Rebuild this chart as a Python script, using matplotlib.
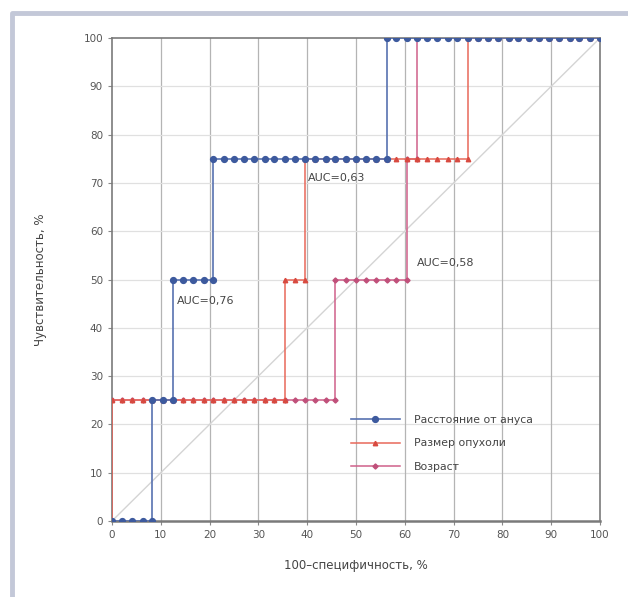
import matplotlib.pyplot as plt
from matplotlib.lines import Line2D

# ROC curves, x = 100 - specificity, y = sensitivity (%)
dist_x = [0, 2.1, 4.2, 6.3, 8.3,
          8.3, 10.4, 12.5,
          12.5, 14.6, 16.7, 18.8, 20.8,
          20.8, 22.9, 25.0, 27.1, 29.2, 31.3, 33.3, 35.4, 37.5, 39.6, 41.7, 43.8,
          45.8, 47.9, 50.0, 52.1, 54.2, 56.3,
          56.3, 58.3, 60.4, 62.5, 64.6, 66.7, 68.8, 70.8, 72.9, 75.0, 77.1, 79.2,
          81.3, 83.3, 85.4, 87.5, 89.6, 91.7, 93.8, 95.8, 97.9, 100]
dist_y = [0]*5 + [25]*3 + [50]*5 + [75]*18 + [100]*22

size_x = [0,
          0, 2.1, 4.2, 6.3, 8.3, 10.4, 12.5, 14.6, 16.7, 18.8, 20.8, 22.9, 25.0,
          27.1, 29.2, 31.3, 33.3, 35.4,
          35.4, 37.5, 39.6,
          39.6, 41.7, 43.8, 45.8, 47.9, 50.0, 52.1, 54.2, 56.3, 58.3, 60.4, 62.5,
          64.6, 66.7, 68.8, 70.8, 72.9,
          72.9, 75.0, 77.1, 79.2, 81.3, 83.3, 85.4, 87.5, 89.6, 91.7, 93.8, 95.8,
          97.9, 100]
size_y = [0] + [25]*18 + [50]*3 + [75]*17 + [100]*14

age_x = [0,
         0, 2.1, 4.2, 6.3, 8.3, 10.4, 12.5, 14.6, 16.7, 18.8, 20.8, 22.9, 25.0,
         27.1, 29.2, 31.3, 33.3, 35.4, 37.5, 39.6, 41.7, 43.8, 45.8,
         45.8, 47.9, 50.0, 52.1, 54.2, 56.3, 58.3, 60.4,
         60.4, 62.5,
         62.5, 64.6, 66.7, 68.8, 70.8, 72.9, 75.0, 77.1, 79.2, 81.3, 83.3, 85.4,
         87.5, 89.6, 91.7, 93.8, 95.8, 97.9, 100]
age_y = [0] + [25]*23 + [50]*8 + [75]*2 + [100]*19

series_names = ['Расстояние от ануса', 'Размер опухоли', 'Возраст']
auc_labels = ['AUC=0,76', 'AUC=0,63', 'AUC=0,58']
auc_pos = [(13.3, 45.5), (40.2, 71.0), (62.5, 53.5)]

ticks = list(range(0, 101, 10))

fig = plt.figure(figsize=(6.28, 5.97), dpi=100)
fig.patch.set_facecolor('white')
ax = fig.add_axes([0.1783, 0.1273, 0.7771, 0.809])

# frame around the figure (left and top only)
fig.add_artist(Line2D([0.019, 0.019, 1.0], [0.0, 0.979, 0.979],
                      transform=fig.transFigure, color='#c3c8d8', lw=3.5))

for t in ticks[1:-1]:
    ax.axvline(t, color='#b4b4b4', lw=0.9, zorder=0)
    ax.axhline(t, color='#e0e0e0', lw=0.9, zorder=0)

ax.plot([0, 100], [0, 100], color='#d4d4d4', lw=1.0, zorder=1)

l_age, = ax.plot(age_x, age_y, color='#d0608a', lw=1.1, marker='D', ms=2.6,
                 mfc='#c0507a', mec='#c0507a', zorder=2)
l_size, = ax.plot(size_x, size_y, color='#e8685a', lw=1.1, marker='^', ms=3.2,
                  mfc='#d84a40', mec='#d84a40', zorder=3)
l_dist, = ax.plot(dist_x, dist_y, color='#5872b0', lw=1.2, marker='o', ms=4.2,
                  mfc='#3d5a9e', mec='#3d5a9e', zorder=4)

for txt, (x, y) in zip(auc_labels, auc_pos):
    ax.text(x, y, txt, fontsize=8, color='#444444', va='center', ha='left')

ax.set_xlim(0, 100)
ax.set_ylim(0, 100)
ax.set_xticks(ticks)
ax.set_yticks(ticks)
ax.tick_params(colors='#888888', labelcolor='#555555', labelsize=7.5,
               length=3, width=0.8)
for side in ['left', 'bottom', 'top', 'right']:
    ax.spines[side].set_color('#7a7a7a')
    ax.spines[side].set_linewidth(1.2)
ax.spines['bottom'].set_linewidth(1.8)

ax.set_xlabel('100–специфичность, %', fontsize=8.5, color='#444444', labelpad=14)
ax.set_ylabel('Чувствительность, %', fontsize=8.5, color='#444444', labelpad=26)

leg = ax.legend([l_dist, l_size, l_age], series_names,
                loc='upper left', bbox_to_anchor=(0.47, 0.24), frameon=False,
                fontsize=7.8, handlelength=4.5, handletextpad=1.3,
                labelspacing=1.25)
for t in leg.get_texts():
    t.set_color('#444444')

fig.savefig('out.png', dpi=100)
